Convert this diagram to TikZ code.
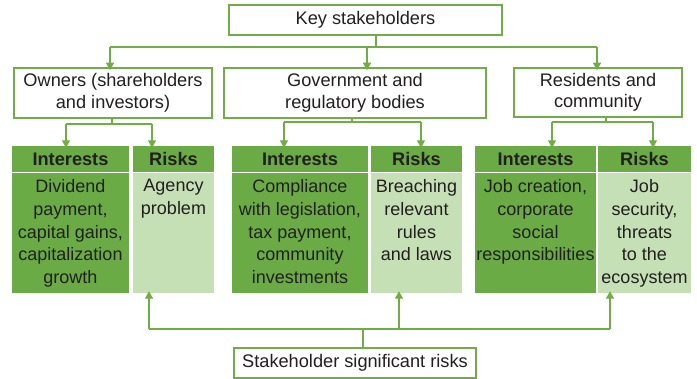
\documentclass[tikz,border=0pt]{standalone}
\usepackage{fontspec}
\setmainfont{Liberation Sans}
\usetikzlibrary{arrows.meta}
\definecolor{gline}{HTML}{70AD47}
\definecolor{gdark}{HTML}{6AAB46}
\definecolor{glight}{HTML}{C5E0B4}
\definecolor{tdark}{HTML}{231F20}
\begin{document}
\begin{tikzpicture}[x=1pt,y=-1pt,
  every node/.style={text=tdark,font=\fontsize{18.2}{21.5}\selectfont},
  box/.style={draw=gline,line width=1.5pt,fill=white,inner sep=0pt,align=center},
  hdr/.style={fill=gdark,inner sep=0pt,minimum height=26pt,font=\fontsize{18.2}{22}\selectfont\bfseries},
  bdark/.style={fill=gdark,inner sep=0pt,minimum height=120pt},
  blight/.style={fill=glight,inner sep=0pt,minimum height=120pt},
  btext/.style={anchor=north,inner sep=0pt,align=center,font=\fontsize{18}{22.8}\selectfont},
  conn/.style={draw=gline,line width=1.3pt},
  arr/.style={conn,-{Triangle[width=8pt,length=7.5pt]}}]
\useasboundingbox (0,0) rectangle (697,379);

% top level boxes
\node[box,minimum width=273pt,minimum height=30pt] (key) at (365.5,20) {Key stakeholders};
\node[box,minimum width=198pt,minimum height=50pt] (own) at (113,93) {Owners (shareholders\\and investors)};
\node[box,minimum width=262pt,minimum height=50pt] (gov) at (355,93) {Government and\\regulatory bodies};
\node[box,minimum width=168pt,minimum height=49pt] (res) at (598,92.5) {Residents and\\community};
\node[box,minimum width=242pt,minimum height=30pt] (sig) at (355,363) {Stakeholder significant risks};

% headers
\node[hdr,minimum width=117pt] (oIh) at (70.5,159) {Interests};
\node[hdr,minimum width=81pt] (oRh) at (173.5,159) {Risks};
\node[hdr,minimum width=136pt] (gIh) at (300,159) {Interests};
\node[hdr,minimum width=91pt] (gRh) at (416.5,159) {Risks};
\node[hdr,minimum width=121pt] (rIh) at (535.5,159) {Interests};
\node[hdr,minimum width=93pt] (rRh) at (644.5,159) {Risks};

% bodies
\node[bdark,minimum width=117pt] (oI) at (70.5,233) {};
\node[blight,minimum width=81pt] (oR) at (173.5,233) {};
\node[bdark,minimum width=136pt] (gI) at (300,233) {};
\node[blight,minimum width=91pt] (gR) at (416.5,233) {};
\node[bdark,minimum width=121pt] (rI) at (535.5,233) {};
\node[blight,minimum width=93pt] (rR) at (644.5,233) {};

\node[btext] (oIt) at ([yshift=-6.5pt]oI.north) {Dividend\\payment,\\capital gains,\\capitalization\\growth};
\node[btext] (oRt) at ([yshift=-6.5pt]oR.north) {Agency\\problem};
\node[btext] (gIt) at ([yshift=-6.5pt]gI.north) {Compliance\\with legislation,\\tax payment,\\community\\investments};
\node[btext] (gRt) at ([yshift=-6.5pt]gR.north) {Breaching\\relevant\\rules\\and laws};
\node[btext] (rIt) at ([yshift=-6.5pt]rI.north) {Job creation,\\corporate\\social\\responsibilities};
\node[btext] (rRt) at ([yshift=-6.5pt]rR.north) {Job\\security,\\threats\\to the\\ecosystem};

% junction coordinates
\coordinate (k0) at (376,47);
\coordinate (k1) at (110,47);
\coordinate (k2) at (367,47);
\coordinate (k3) at (597,47);
\coordinate (o0) at (112,124);
\coordinate (o1) at (66,124);
\coordinate (o2) at (152,124);
\coordinate (g0) at (352,122);
\coordinate (g1) at (284,122);
\coordinate (g2) at (421,122);
\coordinate (r0) at (606,122);
\coordinate (r1) at (552,122);
\coordinate (r2) at (653,122);
\coordinate (s0) at (363,329);
\coordinate (s1) at (149,329);
\coordinate (s2) at (399,329);
\coordinate (s3) at (610,329);

% top connectors
\draw[conn] (key.south -| k0) -- (k0);
\draw[conn] (k1) -- (k3);
\draw[arr] (k1) -- ([yshift=-3pt]own.north -| k1);
\draw[arr] (k2) -- ([yshift=-3pt]gov.north -| k2);
\draw[arr] (k3) -- ([yshift=-3pt]res.north -| k3);

% second level connectors
\draw[conn] (own.south -| o0) -- (o0);
\draw[conn] (o1) -- (o2);
\draw[arr] (o1) -- ([yshift=-2pt]oIh.north -| o1);
\draw[arr] (o2) -- ([yshift=-2pt]oRh.north -| o2);

\draw[conn] (gov.south -| g0) -- (g0);
\draw[conn] (g1) -- (g2);
\draw[arr] (g1) -- ([yshift=-2pt]gIh.north -| g1);
\draw[arr] (g2) -- ([yshift=-2pt]gRh.north -| g2);

\draw[conn] (res.south -| r0) -- (r0);
\draw[conn] (r1) -- (r2);
\draw[arr] (r1) -- ([yshift=-2pt]rIh.north -| r1);
\draw[arr] (r2) -- ([yshift=-2pt]rRh.north -| r2);

% bottom connectors
\draw[conn] (sig.north -| s0) -- (s0);
\draw[conn] (s1) -- (s3);
\draw[arr] (s1) -- ([yshift=2pt]oR.south -| s1);
\draw[arr] (s2) -- ([yshift=2pt]gR.south -| s2);
\draw[arr] (s3) -- ([yshift=2pt]rR.south -| s3);
\end{tikzpicture}
\end{document}
